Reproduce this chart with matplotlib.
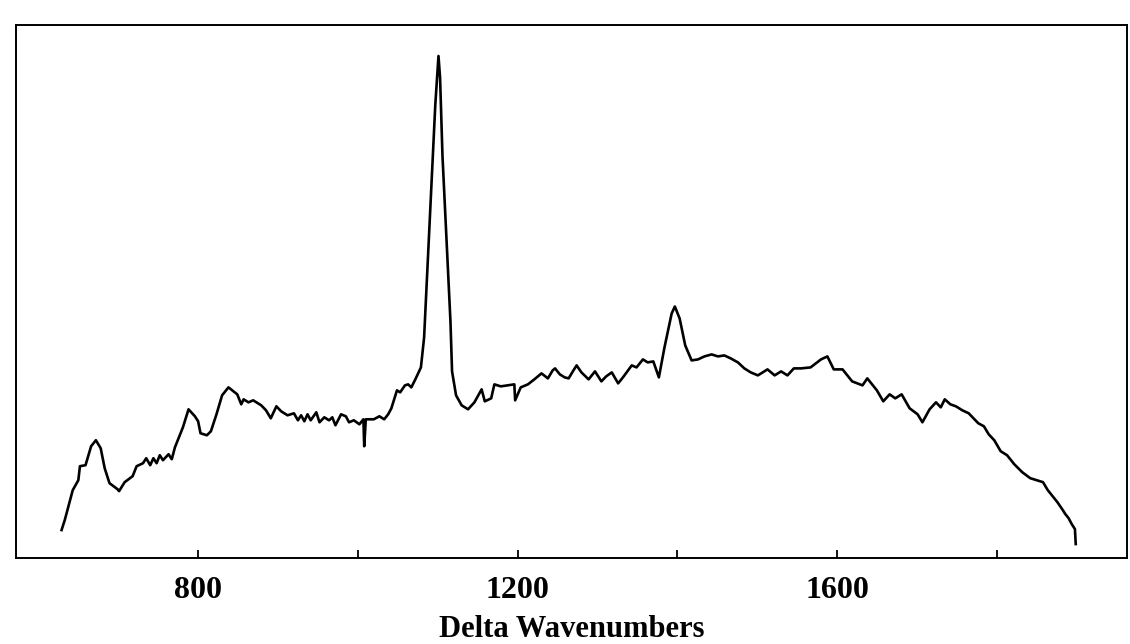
"""
Raman spectrum (Delta Wavenumbers)
"""
import matplotlib
matplotlib.use('Agg')
import matplotlib.pyplot as plt

# values
wavenumber = [629, 633, 643, 650, 652, 659, 666, 672, 678, 683, 689, 699, 701, 708,
              718, 723, 731, 735, 740, 744, 748, 752, 756, 763, 767, 771, 781, 788,
              796, 800, 803, 811, 816, 823, 830, 838, 849, 854, 857, 863, 869, 875,
              879, 885, 891, 898, 904, 912, 920, 925, 929, 933, 937, 941, 948, 952,
              958, 964, 968, 972, 979, 985, 989, 995, 1002, 1007, 1008, 1010, 1020,
              1027, 1033, 1038, 1042, 1049, 1053, 1059, 1063, 1067, 1072, 1079,
              1083, 1091, 1097, 1101, 1103, 1106, 1111, 1116, 1118, 1123, 1130, 1138,
              1146, 1155, 1159, 1167, 1171, 1179, 1188, 1196, 1197, 1204, 1213, 1221,
              1230, 1238, 1244, 1247, 1253, 1259, 1264, 1270, 1274, 1280, 1289, 1297,
              1305, 1311, 1318, 1326, 1332, 1343, 1349, 1357, 1363, 1370, 1377, 1384,
              1393, 1397, 1403, 1410, 1418, 1426, 1434, 1443, 1451, 1459, 1467, 1476,
              1484, 1492, 1501, 1509, 1513, 1522, 1530, 1538, 1546, 1555, 1567, 1580,
              1588, 1596, 1607, 1619, 1632, 1638, 1644, 1650, 1658, 1666, 1673, 1681,
              1691, 1701, 1707, 1716, 1724, 1730, 1735, 1742, 1749, 1757, 1765, 1777,
              1784, 1790, 1797, 1805, 1813, 1822, 1832, 1842, 1850, 1858, 1864, 1870,
              1876, 1882, 1886, 1890, 1894, 1898, 1899]
intensity = [28, 38, 68, 78, 92, 93, 112, 118, 110, 90, 75, 69, 67, 76,
             82, 92, 95, 100, 93, 100, 95, 103, 98, 104, 99, 111, 131, 149,
             142, 137, 125, 123, 127, 144, 163, 171, 164, 154, 159, 156, 158, 155,
             153, 148, 140, 152, 147, 143, 145, 138, 143, 137, 144, 138, 146, 136,
             141, 138, 141, 133, 144, 142, 136, 138, 134, 139, 112, 139, 139,
             142, 139, 144, 150, 168, 166, 173, 174, 171, 179, 191,
             221, 354, 454, 503, 481, 403, 320, 237, 187, 163, 153, 149,
             156, 169, 157, 160, 174, 172, 173, 174, 158, 171, 174, 179,
             185, 180, 188, 190, 184, 181, 180, 188, 193, 186, 179, 187,
             177, 182, 186, 175, 181, 193, 191, 199, 196, 197, 181, 211,
             245, 252, 240, 213, 198, 199, 202, 204, 202, 203, 200, 196,
             190, 186, 183, 187, 189, 183, 187, 183, 190, 190, 191, 199,
             202, 189, 189, 177, 173, 180, 174, 168, 157, 164, 160, 164,
             150, 144, 136, 149, 156, 151, 159, 154, 152, 148, 145, 135,
             132, 124, 118, 107, 103, 94, 86, 80, 78, 76, 68, 62,
             56, 49, 44, 40, 34, 29, 14]

tick_pos = [800, 1000, 1200, 1400, 1600, 1800]
tick_text = ['800', '', '1200', '', '1600', '']

plt.rcParams['font.family'] = ['Liberation Serif', 'DejaVu Serif']

fig = plt.figure(figsize=(11.3, 6.44), dpi=100)
ax = fig.add_axes([0.0142, 0.1335, 0.983, 0.8276])
ax.plot(wavenumber, intensity, color='black', linewidth=1.9)

ax.set_xlim(572, 1963)
ax.set_ylim(0, 534)
ax.set_xticks(tick_pos)
ax.set_xticklabels(tick_text, fontsize=23, fontweight='bold')
ax.tick_params(axis='x', direction='in', length=6, width=1.3, pad=13)
ax.set_yticks([])
for s in ax.spines.values():
    s.set_linewidth(1.4)
ax.set_xlabel('Delta Wavenumbers', fontsize=22, fontweight='bold', labelpad=7)

fig.savefig('out.png', dpi=100)
